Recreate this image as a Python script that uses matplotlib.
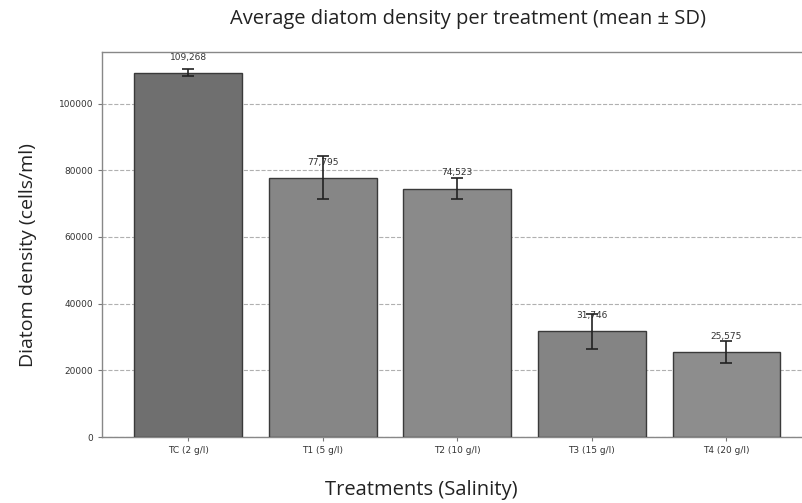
import matplotlib.pyplot as plt
import numpy as np

# --- Data ---
treatments = ["TC (2 g/l)", "T1 (5 g/l)", "T2 (10 g/l)", "T3 (15 g/l)", "T4 (20 g/l)"]
mean_density = [109268, 77795, 74523, 31746, 25575]
sd_density = [1000, 6500, 3100, 5200, 3300]
bar_colors = ["#6f6f6f", "#868686", "#8a8a8a", "#848484", "#8d8d8d"]

plt.rcParams["font.family"] = ["Open Sans", "DejaVu Sans"]

fig = plt.figure(figsize=(8.03, 5.03), dpi=100)
ax = fig.add_axes([0.127, 0.131, 0.885, 0.766])

x = np.arange(len(treatments))
ax.bar(x, mean_density, width=0.8, color=bar_colors, edgecolor="#3a3a3a", linewidth=1.0,
       yerr=sd_density, capsize=4, error_kw={"ecolor": "#222222", "elinewidth": 1.2, "capthick": 1.2},
       zorder=3)

# value labels sit a fixed distance above the bar top
for xi, m in zip(x, mean_density):
    ax.text(xi, m + 3300, f"{m:,}", ha="center", va="bottom", fontsize=6.5,
            color="#333333", family="DejaVu Sans", zorder=2.5)

ax.set_xlim(-0.64, 4.64)
ax.set_ylim(0, 115500)
ax.set_yticks([0, 20000, 40000, 60000, 80000, 100000])
ax.set_xticks(x)
ax.set_xticklabels(treatments, fontsize=6.5, color="#333333", family="DejaVu Sans")
ax.tick_params(axis="y", labelsize=6.5, labelcolor="#333333", color="#777777", length=3)
ax.tick_params(axis="x", color="#777777", length=3)
for lbl in ax.get_yticklabels():
    lbl.set_family("DejaVu Sans")

ax.yaxis.grid(True, linestyle="--", color="#b0b0b0", linewidth=0.8, zorder=0)
ax.set_axisbelow(True)
for side in ["left", "top", "bottom", "right"]:
    ax.spines[side].set_color("#888888")
    ax.spines[side].set_linewidth(1.0)

ax.set_title("Average diatom density per treatment (mean ± SD)", fontsize=14.5, color="#222222",
             x=0.515, y=1.0, pad=20)
ax.set_xlabel("Treatments (Salinity)", fontsize=14.5, color="#222222", va="center")
ax.xaxis.set_label_coords(0.449, -0.138)
ax.set_ylabel("Diatom density (cells/ml)", fontsize=14, color="#222222", va="center")
ax.yaxis.set_label_coords(-0.104, 0.473)

fig.savefig("out.png", dpi=100)
plt.close(fig)
